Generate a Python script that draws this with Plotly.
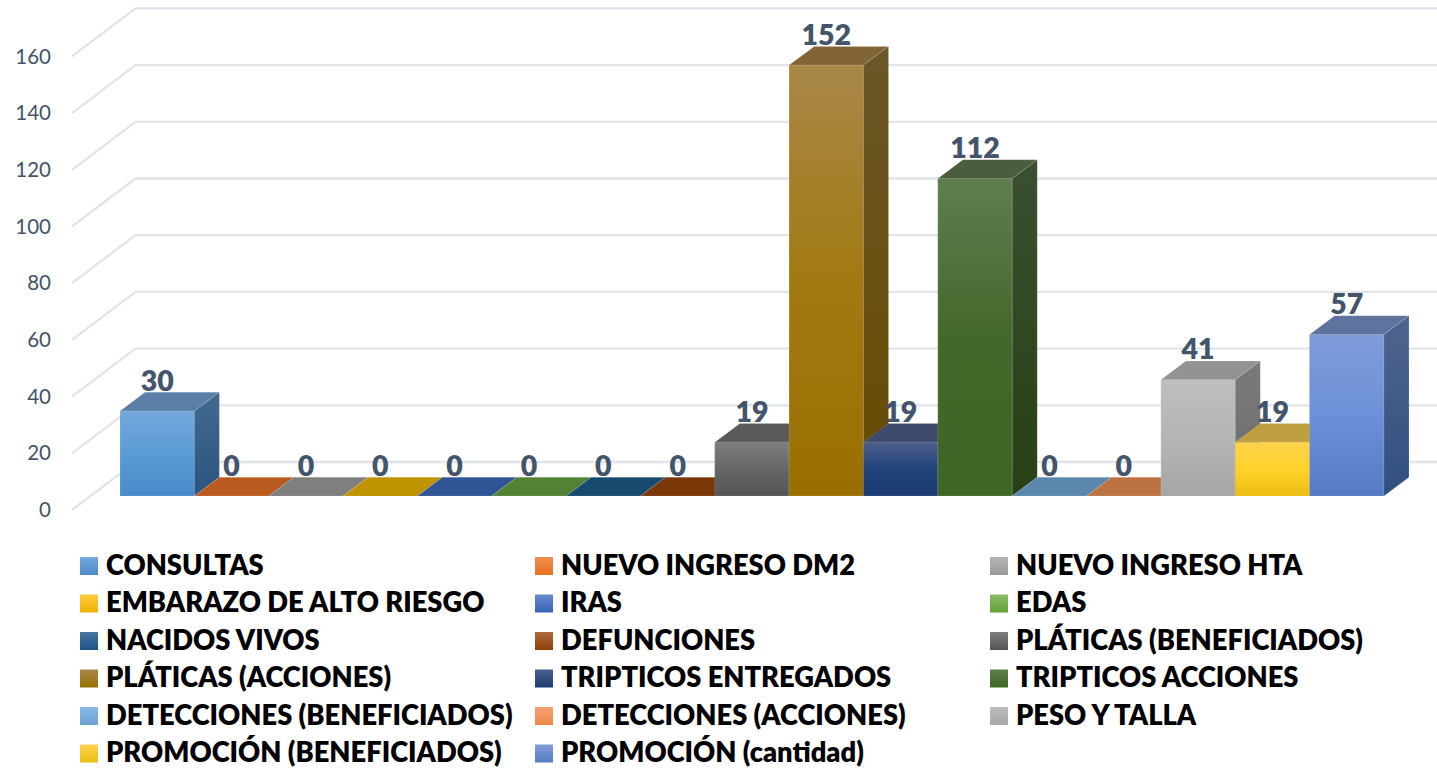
import plotly.graph_objects as go

# ---------- data ----------
CATEGORIES = ["CONSULTAS", "NUEVO INGRESO DM2", "NUEVO INGRESO HTA",
              "EMBARAZO DE ALTO RIESGO", "IRAS", "EDAS",
              "NACIDOS VIVOS", "DEFUNCIONES", "PLÁTICAS (BENEFICIADOS)",
              "PLÁTICAS (ACCIONES)", "TRIPTICOS ENTREGADOS", "TRIPTICOS ACCIONES",
              "DETECCIONES (BENEFICIADOS)", "DETECCIONES (ACCIONES)", "PESO Y TALLA",
              "PROMOCIÓN (BENEFICIADOS)", "PROMOCIÓN (cantidad)"]
VALUES = [30, 0, 0, 0, 0, 0, 0, 0, 19, 152, 19, 112, 0, 0, 41, 19, 57]
AXIS_TICKS = [0, 20, 40, 60, 80, 100, 120, 140, 160]

# ---------- colours (front top, front mid, front bottom, side top, side bottom, top face) ----------
FRONT_TOP = ["#74A9DD", "#F08F55", "#B4B4B4", "#FFC93C", "#6A8CCF", "#8ABB68", "#4A76A2", "#AE6A42", "#7E7E7E",
             "#A88748", "#4E5F8C", "#5F7E50", "#8AB9E3", "#F4A273", "#BEBEBE", "#FFD24D", "#7F9CD9"]
FRONT_MID = ["#5B9BD5", "#ED7D31", "#A5A5A5", "#FFC000", "#4472C4", "#70AD47", "#255E91", "#9E480E", "#666666",
             "#A27A12", "#21427B", "#43682B", "#7CAFDD", "#F1975A", "#B5B5B5", "#FFD22A", "#6D90D8"]
FRONT_BOT = ["#4A8AC9", "#E8701F", "#9A9A9A", "#F0B400", "#3563B8", "#62A038", "#1A5288", "#8F3E08", "#555555",
             "#996F00", "#1B3A74", "#3E6625", "#6FA3D6", "#EC8A4B", "#A6A6A6", "#ECBE15", "#567BC2"]
SIDE_TOP = ["#446A8E", "#A05A2C", "#6E6E6E", "#A88530", "#35538A", "#4D7A30", "#1C4A70", "#6B3208", "#4E4E4E",
            "#6B5628", "#2D3A60", "#3B4F30", "#5B87AD", "#A86B40", "#7A7A7A", "#B09230", "#4F658F"]
SIDE_BOT = ["#2A5580", "#8A4A20", "#5E5E5E", "#947218", "#264684", "#3F6A22", "#123F66", "#5C2A05", "#3E3E3E",
            "#664B00", "#182E58", "#274015", "#4C7AA3", "#9C5C30", "#6C6C6C", "#9C8010", "#324F7F"]
TOP_FACE = ["#5B7FA6", "#BA5B20", "#7F7F7F", "#C09300", "#2F5597", "#548235", "#174A6F", "#7A3708", "#5A5A5A",
            "#826537", "#3F4B6D", "#4A5D3F", "#5B87AD", "#BC7242", "#939393", "#BFA040", "#5F739F"]
TICK_COLOR = "#44546A"
GRID_COLOR = "#E1E4EB"
EDGE_COLOR = "rgba(255,255,255,0.12)"
FONT = "Lato"

# ---------- page geometry ----------
W, H = 1437, 770
BAR_STEP = 74.35            # px per category
FIRST_CENTER = 157.2        # px of first category centre
PX_PER_UNIT = 2.835
BAR_ZERO_PX = 496.0         # bar plane
WALL_ZERO_PX = 510.0        # front edge of the side wall
WALL_DX, WALL_DY = 63.5, 48.0
BAR_DX, BAR_DY = 25.0, 18.7
LABEL_LIFT = 27.5


def xrange_px(px):
    return (px - FIRST_CENTER) / BAR_STEP


dx = BAR_DX / BAR_STEP
dy = BAR_DY / PX_PER_UNIT
fig = go.Figure()

# side wall + back wall grid (primary axes, behind everything)
wall_left = xrange_px(72)
wall_back = xrange_px(72 + WALL_DX)
wall_end = xrange_px(W + 5)
for t in AXIS_TICKS:
    lift = WALL_DY / PX_PER_UNIT
    fig.add_trace(go.Scatter(x=[wall_left, wall_back, wall_end], y=[t, t + lift, t + lift],
                             mode="lines", line=dict(color=GRID_COLOR, width=2.3),
                             hoverinfo="skip", showlegend=False, yaxis="y", xaxis="x"))

# the value bars themselves (fronts; shaded faces are painted over them)
fig.add_trace(go.Bar(x=list(range(len(VALUES))), y=VALUES, width=1, marker=dict(color=FRONT_MID, line_width=0),
                     customdata=CATEGORIES, hovertemplate="%{customdata}: %{y}<extra></extra>",
                     showlegend=False, yaxis="y2", xaxis="x"))


def gradient(c_top, c_mid, c_bot=None):
    stops = [[0, c_bot], [0.5, c_mid], [1, c_top]] if c_bot else [[0, c_mid], [1, c_top]]
    return dict(type="vertical", colorscale=stops)


edge = dict(width=1, color=EDGE_COLOR)
for i, v in enumerate(VALUES):
    l, r = i - 0.5, i + 0.5
    if v > 0:
        fig.add_trace(go.Scatter(x=[l, r, r, l, l], y=[0, 0, v, v, 0], mode="lines", fill="toself",
                                 line=edge, fillgradient=gradient(FRONT_TOP[i], FRONT_MID[i], FRONT_BOT[i]),
                                 hoverinfo="skip", showlegend=False, yaxis="y2", xaxis="x"))
    fig.add_trace(go.Scatter(x=[l, r, r + dx, l + dx, l], y=[v, v, v + dy, v + dy, v], mode="lines", fill="toself",
                             line=edge, fillcolor=TOP_FACE[i],
                             hoverinfo="skip", showlegend=False, yaxis="y2", xaxis="x"))
    if v > 0:
        fig.add_trace(go.Scatter(x=[r, r + dx, r + dx, r, r], y=[0, dy, v + dy, v, 0], mode="lines", fill="toself",
                                 line=edge, fillgradient=gradient(SIDE_TOP[i], SIDE_BOT[i]),
                                 hoverinfo="skip", showlegend=False, yaxis="y2", xaxis="x"))

# data labels
fig.add_trace(go.Scatter(x=list(range(len(VALUES))), y=[v + LABEL_LIFT / PX_PER_UNIT for v in VALUES],
                         text=[str(v) for v in VALUES], mode="text", textposition="middle center",
                         textfont=dict(family=FONT, size=28.5, color=TICK_COLOR, weight=800),
                         hoverinfo="skip", showlegend=False, yaxis="y2", xaxis="x"))

# legend (three columns, six rows) on a page-pixel overlay
COLS = [89, 544, 999]
TEXT_OFFSET = 17
ROW0, ROW_STEP = 566, 37.5
for i, name in enumerate(CATEGORIES):
    row, col = divmod(i, 3)
    y = ROW0 + row * ROW_STEP
    fig.add_trace(go.Scatter(x=[COLS[col]], y=[y], mode="markers",
                             marker=dict(symbol="square", size=18, color=FRONT_TOP[i],
                                         gradient=dict(type="vertical", color=FRONT_BOT[i]), line_width=0),
                             hoverinfo="skip", showlegend=False, xaxis="x2", yaxis="y3"))
    fig.add_trace(go.Scatter(x=[COLS[col] + TEXT_OFFSET], y=[y + 2], text=[name], mode="text",
                             textposition="middle right",
                             textfont=dict(family=FONT, size=27.3, color="black", weight=800),
                             hoverinfo="skip", showlegend=False, xaxis="x2", yaxis="y3"))

y_prim = [(WALL_ZERO_PX - H) / PX_PER_UNIT, WALL_ZERO_PX / PX_PER_UNIT]
y_bars = [(BAR_ZERO_PX - H) / PX_PER_UNIT, BAR_ZERO_PX / PX_PER_UNIT]
hidden = dict(visible=False, showgrid=False, zeroline=False, fixedrange=True)
fig.update_layout(
    width=W, height=H, margin=dict(l=0, r=0, t=0, b=0), autosize=False,
    paper_bgcolor="white", plot_bgcolor="rgba(0,0,0,0)", showlegend=False, barmode="overlay",
    xaxis=dict(range=[xrange_px(0), xrange_px(W)], **hidden),
    yaxis=dict(range=y_prim, tickmode="array", tickvals=AXIS_TICKS, ticktext=[str(t) for t in AXIS_TICKS],
               showgrid=False, zeroline=False, showline=False, ticks="", anchor="free", position=51 / W,
               side="left", ticklabelposition="outside",
               tickfont=dict(family=FONT, size=20.5, color=TICK_COLOR), fixedrange=True),
    yaxis2=dict(range=y_bars, overlaying="y", **hidden),
    xaxis2=dict(range=[0, W], overlaying="x", **hidden),
    yaxis3=dict(range=[H, 0], overlaying="y", **hidden),
)

fig.write_html("out.html", config={"displayModeBar": False}, post_script="document.body.style.margin='0';")
